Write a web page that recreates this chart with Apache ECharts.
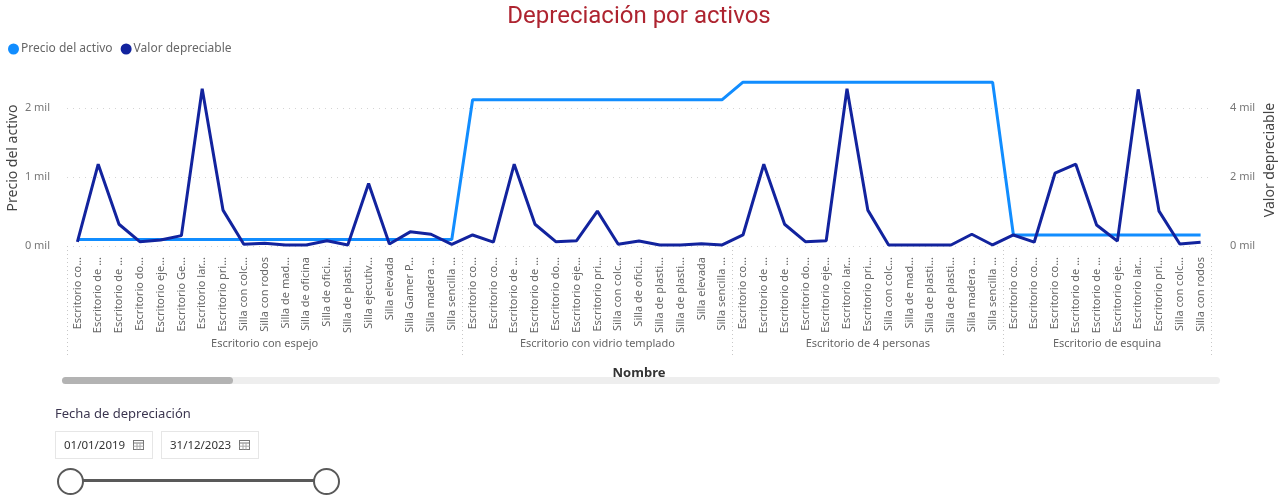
<!DOCTYPE html>
<html>
<head>
<meta charset="utf-8">
<script src="https://cdn.jsdelivr.net/npm/echarts@6/dist/echarts.min.js"></script>
<style>
  html, body { margin: 0; padding: 0; background: #fff; }
  #chart { position: absolute; left: 0; top: 0; width: 1278px; height: 499px; }
  .slicer { position: absolute; left: 55px; top: 404px; font-family: "Noto Sans", "Open Sans", sans-serif; }
  .slicer .ttl { font-size: 13px; color: #3c3650; }
  .box { position: absolute; top: 27px; width: 96px; height: 26px; border: 1px solid #e6e6e6; font-size: 11.5px; color: #333; line-height: 26px; box-sizing: content-box; }
  .box span { position: absolute; left: 8px; }
  .box svg { position: absolute; right: 8px; top: 8px; }
  .track { position: absolute; left: 28px; top: 75px; width: 232px; height: 3px; background: #595959; }
  .knob { position: absolute; top: 64px; width: 23px; height: 23px; border: 2px solid #595959; border-radius: 50%; background: #fff; }
</style>
</head>
<body>
<div id="chart"></div>
<div class="slicer">
  <div class="ttl">Fecha de depreciación</div>
  <div class="box" style="left:0"><span>01/01/2019</span>
    <svg width="11" height="10" viewBox="0 0 11 10"><rect x="0.5" y="0.5" width="10" height="9" fill="none" stroke="#777"/><line x1="0.5" y1="3" x2="10.5" y2="3" stroke="#777"/><line x1="4" y1="3" x2="4" y2="9.5" stroke="#aaa"/><line x1="7" y1="3" x2="7" y2="9.5" stroke="#aaa"/><line x1="0.5" y1="6.2" x2="10.5" y2="6.2" stroke="#aaa"/></svg>
  </div>
  <div class="box" style="left:106px"><span>31/12/2023</span>
    <svg width="11" height="10" viewBox="0 0 11 10"><rect x="0.5" y="0.5" width="10" height="9" fill="none" stroke="#777"/><line x1="0.5" y1="3" x2="10.5" y2="3" stroke="#777"/><line x1="4" y1="3" x2="4" y2="9.5" stroke="#aaa"/><line x1="7" y1="3" x2="7" y2="9.5" stroke="#aaa"/><line x1="0.5" y1="6.2" x2="10.5" y2="6.2" stroke="#aaa"/></svg>
  </div>
  <div class="track"></div>
  <div class="knob" style="left:2px"></div>
  <div class="knob" style="left:258px"></div>
</div>
<script>
// Asset names, grouped by the parent desk model (as displayed, truncated)
const groupNames = ['Escritorio con espejo', 'Escritorio con vidrio templado', 'Escritorio de 4 personas', 'Escritorio de esquina'];

const namesEspejo = ['Escritorio co...', 'Escritorio de ...', 'Escritorio de ...', 'Escritorio do...', 'Escritorio eje...', 'Escritorio Ge...', 'Escritorio lar...', 'Escritorio pri...', 'Silla con colc...', 'Silla con rodos', 'Silla de mad...', 'Silla de oficina', 'Silla de ofici...', 'Silla de plasti...', 'Silla ejecutiv...', 'Silla elevada', 'Silla Gamer P...', 'Silla madera ...', 'Silla sencilla ...'];
const namesVidrio = ['Escritorio co...', 'Escritorio co...', 'Escritorio de ...', 'Escritorio de ...', 'Escritorio do...', 'Escritorio eje...', 'Escritorio pri...', 'Silla con colc...', 'Silla de ofici...', 'Silla de plasti...', 'Silla de plasti...', 'Silla elevada', 'Silla sencilla ...'];
const namesCuatro = ['Escritorio co...', 'Escritorio de ...', 'Escritorio de ...', 'Escritorio do...', 'Escritorio eje...', 'Escritorio lar...', 'Escritorio pri...', 'Silla con colc...', 'Silla de mad...', 'Silla de plasti...', 'Silla de plasti...', 'Silla madera ...', 'Silla sencilla ...'];
const namesEsquina = ['Escritorio co...', 'Escritorio co...', 'Escritorio co...', 'Escritorio de ...', 'Escritorio de ...', 'Escritorio eje...', 'Escritorio lar...', 'Escritorio pri...', 'Silla con colc...', 'Silla con rodos'];

// Precio del activo (price of the parent asset, repeated per row)
const precioEspejo = [95, 95, 95, 95, 95, 95, 95, 95, 95, 95, 95, 95, 95, 95, 95, 95, 95, 95, 95];
const precioVidrio = [2120, 2120, 2120, 2120, 2120, 2120, 2120, 2120, 2120, 2120, 2120, 2120, 2120];
const precioCuatro = [2375, 2375, 2375, 2375, 2375, 2375, 2375, 2375, 2375, 2375, 2375, 2375, 2375];
const precioEsquina = [160, 160, 160, 160, 160, 160, 160, 160, 160, 160];

// Valor depreciable
const valorEspejo = [120, 2370, 630, 125, 175, 300, 4560, 1040, 50, 80, 30, 30, 150, 30, 1810, 60, 410, 340, 50];
const valorVidrio = [320, 110, 2370, 630, 125, 155, 1010, 50, 145, 30, 30, 65, 30];
const valorCuatro = [320, 2370, 630, 125, 150, 4560, 1040, 30, 30, 30, 30, 340, 30];
const valorEsquina = [320, 110, 2110, 2370, 610, 140, 4540, 1010, 60, 110];

const leftTicks = [0, 1000, 2000];
const rightTicks = [0, 2000, 4000];

const groups = [namesEspejo, namesVidrio, namesCuatro, namesEsquina];
const categories = [].concat(...groups);
const precio = [].concat(precioEspejo, precioVidrio, precioCuatro, precioEsquina);
const valor = [].concat(valorEspejo, valorVidrio, valorCuatro, valorEsquina);

// Group boundaries / centres in category-index units for the outer axis row
const bounds = [-0.5];
const centres = [];
let start = 0;
groups.forEach(g => {
  centres.push(start + (g.length - 1) / 2);
  start += g.length;
  bounds.push(start - 0.5);
});

const FONT = '"Noto Sans", "Open Sans", sans-serif';
const milFmt = v => (v / 1000) + ' mil';

const chart = echarts.init(document.getElementById('chart'), null, { renderer: 'canvas' });
chart.setOption({
  backgroundColor: '#ffffff',
  animation: false,
  textStyle: { fontFamily: FONT },
  title: {
    text: 'Depreciación por activos',
    left: 'center',
    top: 0,
    textStyle: { fontFamily: 'Roboto, ' + FONT, fontSize: 24, fontWeight: 'normal', color: '#AE2430' }
  },
  legend: {
    left: 3,
    top: 38,
    icon: 'circle',
    itemWidth: 11,
    itemHeight: 11,
    itemGap: 8,
    textStyle: { fontSize: 12, color: '#666', padding: [0, 0, 0, -3] },
    data: ['Precio del activo', 'Valor depreciable']
  },
  grid: { left: 67, right: 67, top: 108, bottom: 253, containLabel: false },
  xAxis: [
    {
      type: 'category',
      data: categories,
      boundaryGap: true,
      axisLine: { show: false },
      axisTick: { show: false },
      axisLabel: { rotate: 90, interval: 0, fontSize: 11, color: '#666', margin: 11 },
      name: 'Nombre',
      nameLocation: 'middle',
      nameGap: 121,
      nameTextStyle: { fontSize: 13, fontWeight: 'bold', color: '#333' }
    },
    {
      type: 'value',
      min: -0.5,
      max: categories.length - 0.5,
      position: 'bottom',
      axisLine: { show: false },
      splitLine: { show: false },
      axisTick: {
        show: true,
        customValues: bounds,
        length: 109,
        lineStyle: { color: '#c8c8c8', type: [1, 3], width: 1 }
      },
      axisLabel: {
        customValues: centres,
        margin: 92,
        fontSize: 11,
        color: '#666',
        formatter: v => groupNames[centres.indexOf(v)] || ''
      }
    }
  ],
  yAxis: [
    {
      type: 'value',
      min: leftTicks[0],
      max: leftTicks[leftTicks.length - 1],
      interval: leftTicks[1] - leftTicks[0],
      axisLine: { show: false },
      axisTick: { show: false },
      axisLabel: { formatter: milFmt, fontSize: 11, color: '#777', margin: 17 },
      splitLine: { show: true, lineStyle: { color: '#d4d4d4', type: [1, 5], width: 1 } }
    },
    {
      type: 'value',
      min: rightTicks[0],
      max: rightTicks[rightTicks.length - 1],
      interval: rightTicks[1] - rightTicks[0],
      position: 'right',
      axisLine: { show: false },
      axisTick: { show: false },
      axisLabel: { formatter: milFmt, fontSize: 11, color: '#777', margin: 19 },
      splitLine: { show: false }
    }
  ],
  graphic: [
    { type: 'text', x: 13, y: 158, rotation: Math.PI / 2,
      style: { text: 'Precio del activo', fontSize: 14, fill: '#444', fontFamily: FONT, align: 'center', verticalAlign: 'middle' } },
    { type: 'text', x: 1270, y: 160, rotation: Math.PI / 2,
      style: { text: 'Valor depreciable', fontSize: 14, fill: '#444', fontFamily: FONT, align: 'center', verticalAlign: 'middle' } },
    { type: 'rect', shape: { x: 62, y: 377, width: 1158, height: 7, r: 3.5 }, style: { fill: '#eeeeee' } },
    { type: 'rect', shape: { x: 62, y: 377, width: 171, height: 7, r: 3.5 }, style: { fill: '#b3b3b3' } }
  ],
  series: [
    {
      name: 'Precio del activo',
      type: 'line',
      xAxisIndex: 0,
      yAxisIndex: 0,
      data: precio,
      showSymbol: false,
      symbol: 'circle',
      clip: false,
      color: '#118DFF',
      lineStyle: { width: 3, color: '#118DFF' },
      z: 2
    },
    {
      name: 'Valor depreciable',
      type: 'line',
      xAxisIndex: 0,
      yAxisIndex: 1,
      data: valor,
      showSymbol: false,
      symbol: 'circle',
      clip: false,
      color: '#12239E',
      lineStyle: { width: 3, color: '#12239E' },
      z: 3
    }
  ]
});
</script>
</body>
</html>
